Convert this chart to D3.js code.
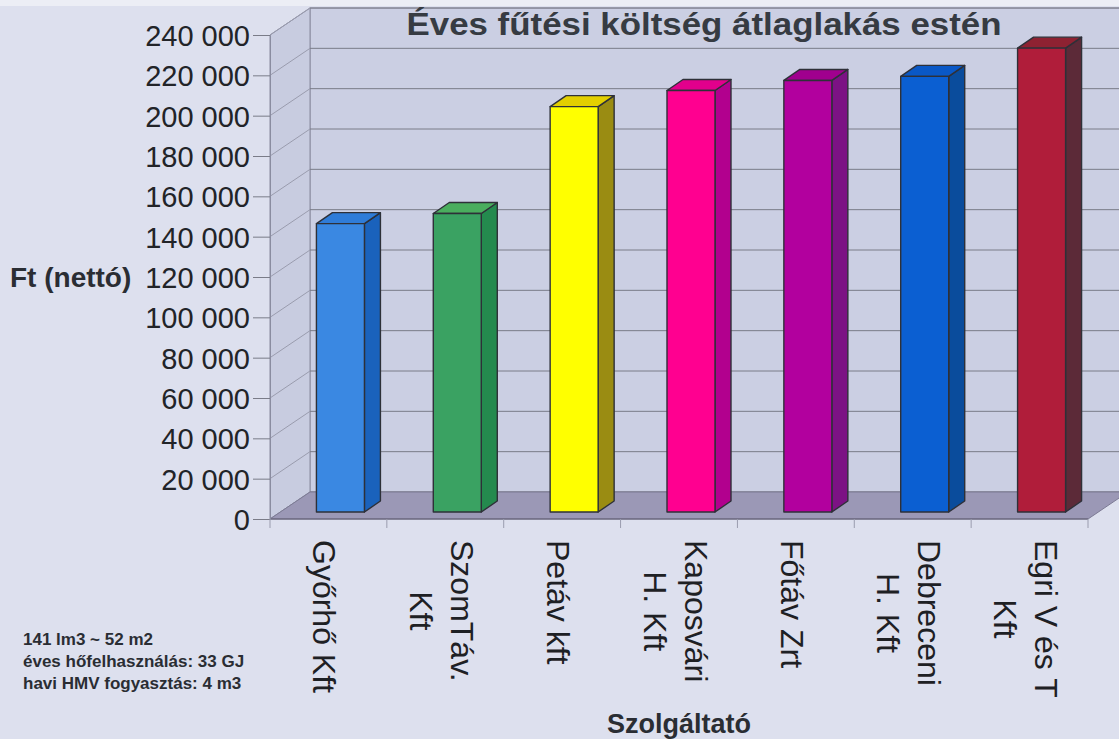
<!DOCTYPE html>
<html>
<head>
<meta charset="utf-8">
<script src="https://cdn.jsdelivr.net/npm/d3@7"></script>
<style>
  html, body { margin: 0; padding: 0; background: #dfe2ef; }
  svg { display: block; }
  text { font-family: "Liberation Sans", Arial, sans-serif; }
</style>
</head>
<body>
<svg id="chart" width="1119" height="739"></svg>
<script>
// ---- data ----
const title = "Éves fűtési költség átlaglakás estén";
const yTitle = "Ft (nettó)";
const xTitle = "Szolgáltató";
const notes = ["141 lm3 ~ 52 m2", "éves hőfelhasználás: 33 GJ", "havi HMV fogyasztás: 4 m3"];
const categories = ["Győrhő Kft", "SzomTáv.\nKft", "Petáv kft", "Kaposvári\nH. Kft", "Főtáv Zrt", "Debreceni\nH. Kft", "Egri V és T\nKft"];
const values = [143000, 148000, 201000, 209000, 214000, 216000, 230000];
const frontColors = ["#3a88e2", "#3aa262", "#ffff00", "#ff0090", "#b2009e", "#0b5fd2", "#b01d3a"];
const topColors   = ["#2f7cd8", "#4aae5e", "#e3cf00", "#e2008c", "#a0008e", "#0a58c6", "#8e2232"];
const sideColors  = ["#1a62bc", "#248a4e", "#9a8c12", "#b2008e", "#7c1284", "#0a4c9c", "#5c2a38"];
const yTicks = [0, 20000, 40000, 60000, 80000, 100000, 120000, 140000, 160000, 180000, 200000, 220000, 240000];

// ---- layout ----
const svg = d3.select("#chart");
const W = 1119, H = 739;
const depth = {dx: 40, dy: -27};       // floor / wall depth
const barOff = {dx: 12, dy: -7};       // bar front plane offset
const barDepth = {dx: 16, dy: -11};    // bar depth
const barW = 48;

const x = d3.scaleBand().domain(categories).range([270, 1088]).paddingInner(0).paddingOuter(0);
const y = d3.scaleLinear().domain([0, 240000]).range([519, 35]);
const fmt = v => d3.format(",")(v).replace(/,/g, " ");

// background
svg.append("rect").attr("width", W).attr("height", H).attr("fill", "#dde0ee");
svg.append("rect").attr("width", W).attr("height", 6).attr("fill", "#eceef5");

const x0 = x.range()[0], x1 = x.range()[1];
const yTop = y(240000), yBot = y(0);

// back wall
svg.append("rect")
  .attr("x", x0 + depth.dx).attr("y", yTop + depth.dy)
  .attr("width", W - (x0 + depth.dx) + 20).attr("height", yBot - yTop)
  .attr("fill", "#cbcfe3").attr("stroke", "#8a8ca0").attr("stroke-width", 1);
// side wall
svg.append("polygon")
  .attr("points", [[x0, yTop], [x0 + depth.dx, yTop + depth.dy], [x0 + depth.dx, yBot + depth.dy], [x0, yBot]].map(p => p.join(",")).join(" "))
  .attr("fill", "#c8cce0").attr("stroke", "#8a8ca0").attr("stroke-width", 1);

// gridlines
const grid = svg.append("g").attr("stroke", "#7a7c88").attr("stroke-width", 1).attr("fill", "none");
yTicks.forEach(t => {
  const yy = y(t);
  grid.append("line").attr("x1", x0 + depth.dx).attr("x2", W + 5).attr("y1", yy + depth.dy).attr("y2", yy + depth.dy);
  grid.append("line").attr("x1", x0).attr("x2", x0 + depth.dx).attr("y1", yy).attr("y2", yy + depth.dy).attr("stroke", "#9a9cae");
});

// floor
svg.append("polygon")
  .attr("points", [[x0, yBot], [x1, yBot], [x1 + depth.dx, yBot + depth.dy], [x0 + depth.dx, yBot + depth.dy]].map(p => p.join(",")).join(" "))
  .attr("fill", "#9b98b6").attr("stroke", "#7c7a94").attr("stroke-width", 1);
svg.append("line").attr("x1", x0).attr("x2", x1).attr("y1", yBot).attr("y2", yBot)
  .attr("stroke", "#5e5c70").attr("stroke-width", 1.2);

// y axis
const yAxis = d3.axisLeft(y).tickValues(yTicks).tickSize(17).tickPadding(3).tickFormat(fmt);
const ya = svg.append("g").attr("transform", `translate(${x0},0)`).call(yAxis);
ya.select(".domain").attr("stroke", "#8a8ca0");
ya.selectAll(".tick line").attr("stroke", "#7a7c88");
ya.selectAll(".tick text").attr("font-size", 29).attr("fill", "#222428")
  .attr("font-family", "Liberation Sans, Arial, sans-serif").attr("dy", "0.36em");

// category boundary ticks
const bounds = categories.map(c => x(c)).concat([x1]);
svg.append("g").selectAll("line").data(bounds).join("line")
  .attr("x1", d => d).attr("x2", d => d).attr("y1", yBot).attr("y2", yBot + 9)
  .attr("stroke", "#9a9cae").attr("stroke-width", 1);

// bars
const bars = svg.append("g").attr("stroke", "#2e3038").attr("stroke-width", 1.4).attr("stroke-linejoin", "round");
categories.forEach((c, i) => {
  const fx = x(c) + (x.bandwidth() - barW) / 2 + barOff.dx;
  const fyT = y(values[i]) + barOff.dy;
  const fyB = y(0) + barOff.dy;
  const pts = a => a.map(p => p.join(",")).join(" ");
  // side
  bars.append("polygon").attr("fill", sideColors[i]).attr("points", pts([
    [fx + barW, fyT], [fx + barW + barDepth.dx, fyT + barDepth.dy],
    [fx + barW + barDepth.dx, fyB + barDepth.dy], [fx + barW, fyB]]));
  // top
  bars.append("polygon").attr("fill", topColors[i]).attr("points", pts([
    [fx, fyT], [fx + barDepth.dx, fyT + barDepth.dy],
    [fx + barW + barDepth.dx, fyT + barDepth.dy], [fx + barW, fyT]]));
  // front
  bars.append("rect").attr("fill", frontColors[i])
    .attr("x", fx).attr("y", fyT).attr("width", barW).attr("height", fyB - fyT);
});

// category labels (rotated 90°, reading downward)
const labG = svg.append("g");
const lineGap = 41, labTop = 540, labFont = 32;
categories.forEach((c, i) => {
  const lines = c.split("\n");
  const cx = x(c) + x.bandwidth() / 2 - 3;
  const n = lines.length;
  const texts = lines.map((ln, k) => {
    const inkCenter = cx + ((n - 1) / 2 - k) * lineGap;
    return labG.append("text").text(ln)
      .attr("font-size", labFont).attr("fill", "#1e2024")
      .attr("text-anchor", "middle")
      .attr("dominant-baseline", "central")
      .attr("data-cx", inkCenter);
  });
  const maxW = d3.max(texts, t => t.node().getComputedTextLength());
  texts.forEach(t => {
    const ix = +t.attr("data-cx");
    const iy = labTop + maxW / 2;
    t.attr("transform", `translate(${ix},${iy}) rotate(90)`).attr("y", 1);
  });
});

// titles
svg.append("text").text(title)
  .attr("x", 704).attr("y", 35).attr("text-anchor", "middle")
  .attr("font-size", 32).attr("font-weight", "bold").attr("fill", "#363b42")
  .attr("textLength", 595).attr("lengthAdjust", "spacingAndGlyphs");

svg.append("text").text(yTitle)
  .attr("x", 10).attr("y", y(120000) + 10)
  .attr("font-size", 28).attr("font-weight", "bold").attr("fill", "#2a2d33");

svg.append("text").text(xTitle)
  .attr("x", 679).attr("y", 733).attr("text-anchor", "middle")
  .attr("font-size", 27).attr("font-weight", "bold").attr("fill", "#2a2d33");

// notes
svg.append("g").selectAll("text").data(notes).join("text")
  .text(d => d)
  .attr("x", 23).attr("y", (d, i) => 645 + i * 22)
  .attr("font-size", 17).attr("font-weight", "bold").attr("fill", "#2a2d33");
</script>
</body>
</html>
